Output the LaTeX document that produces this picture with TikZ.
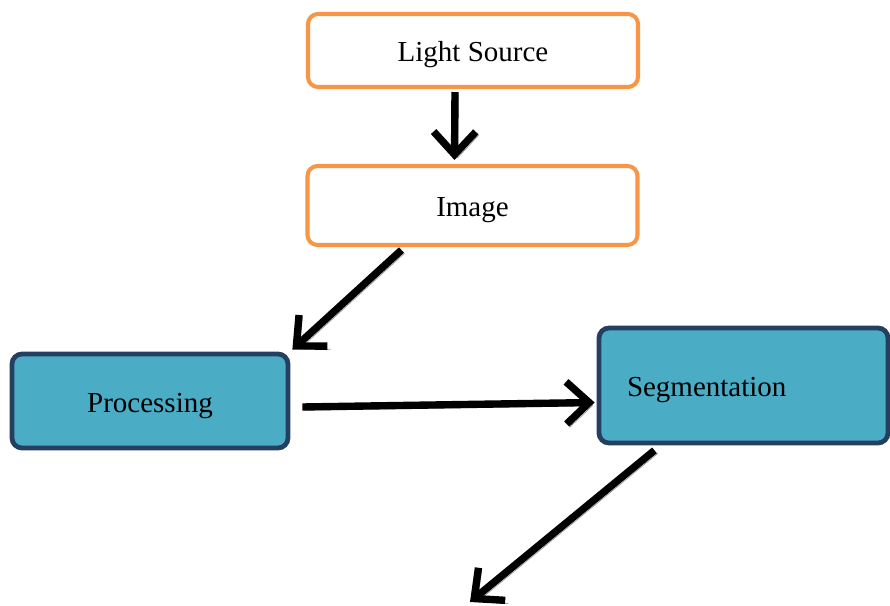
\documentclass[tikz,border=0pt]{standalone}
\usepackage{fontspec}
\setmainfont{Liberation Serif}
\usetikzlibrary{arrows.meta}
\usetikzlibrary{positioning}
\usetikzlibrary{calc}

\definecolor{boxorange}{HTML}{F79646}
\definecolor{boxteal}{HTML}{4BACC6}
\definecolor{boxnavy}{HTML}{243F60}

\begin{document}
\begin{tikzpicture}[
                    every node/.style={align=center, rounded corners=0.2cm, text height=0.6cm, text depth=0.15cm, font=\fontsize{16.5}{20}\selectfont},
                    srcbox/.style={draw=boxorange, line width=2.3pt, fill=white, minimum width=6.6cm},
                    stagebox/.style={draw=boxnavy, line width=2.7pt, fill=boxteal},
                    flow/.style={line width=4.2pt, -{Straight Barb[length=13pt, width=24pt]},
                                 preaction={draw=black!40, transform canvas={shift={(1.8pt,-1.8pt)}}}}
                ]
                \useasboundingbox (0,0) rectangle (17.8,12.12);
                \node[srcbox, minimum height=1.46cm] (light) at (9.46,11.11) {Light Source};
                \node[srcbox, minimum height=1.58cm] (image) at (9.45,8.01) {Image};
                \node[stagebox, minimum width=5.52cm, minimum height=1.88cm] (proc) at (3.0,4.10) {Processing};
                \node[stagebox, minimum width=5.78cm, minimum height=2.3cm, text width=4.66cm, align=left] (seg) at (14.87,4.41) {Segmentation};
                \coordinate (out) at (9.4,0.08);

                \draw[flow] ([xshift=-0.36cm, yshift=-0.06cm]light.south) -- ([xshift=-0.36cm, yshift=0.08cm]image.north);
                \draw[flow] ([xshift=-1.42cm, yshift=-0.06cm]image.south) -- ([xshift=0.04cm, yshift=0.04cm]proc.north east);
                \draw[flow] ([xshift=0.24cm, yshift=-0.12cm]proc.east) -- ([xshift=-0.04cm, yshift=-0.34cm]seg.west);
                \draw[flow] ([xshift=-1.78cm, yshift=-0.1cm]seg.south) -- (out);
            \end{tikzpicture}
\end{document}
